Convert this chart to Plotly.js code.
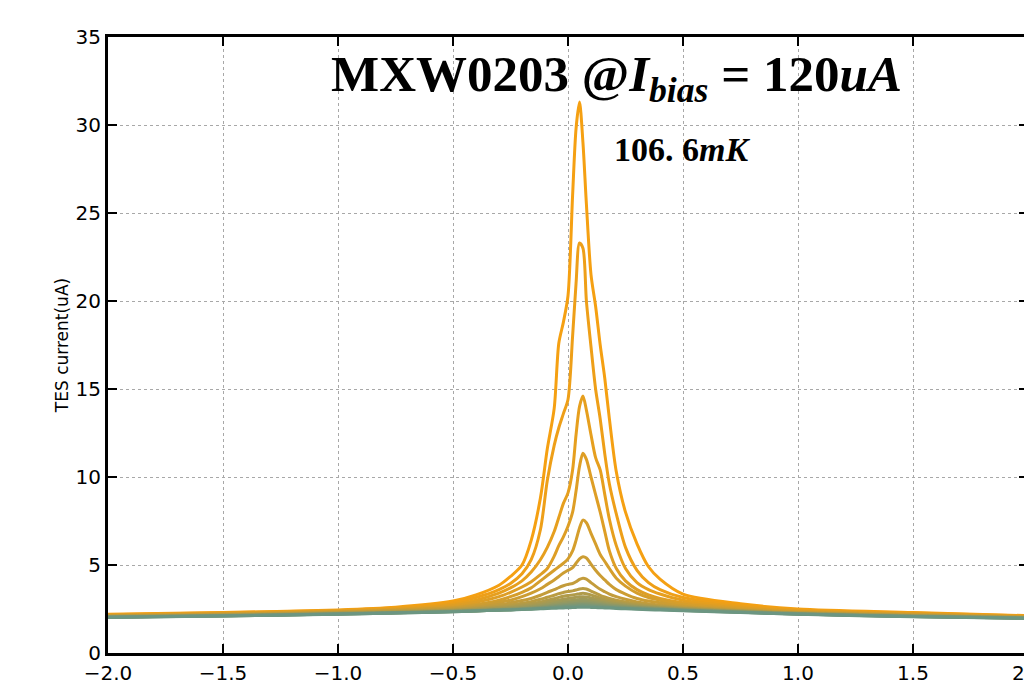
<!DOCTYPE html>
<html><head><meta charset="utf-8">
<script src="https://cdn.plot.ly/plotly-3.0.1.min.js"></script>
<style>html,body{margin:0;padding:0;overflow:hidden;background:#fff}#chart{width:1032px;height:686px}</style>
</head><body><div id="chart"></div>
<script>
// shared x grid (flux / bias axis)
const xGrid = [-2.0,-1.5,-1.0,-0.75,-0.5,-0.4,-0.3,-0.25,-0.2,-0.16,-0.12,-0.09,-0.06,-0.04,-0.02,0.0,0.02,0.035,0.05,0.065,0.08,0.1,0.12,0.14,0.16,0.18,0.21,0.25,0.3,0.35,0.4,0.5,0.75,1.0,1.5,2.0];

// TES current (uA) curves, from the highest peak to the flattest
const curve01 = [2.2,2.3,2.45,2.6,2.95,3.3,3.85,4.35,5.0,6.4,8.8,11.6,13.9,17.6,18.8,20.3,26.0,29.8,31.3,29.0,25.5,21.5,19.7,17.5,15.6,13.3,10.3,8.0,6.2,4.9,4.2,3.35,2.8,2.5,2.3,2.12];
const curve02 = [2.18,2.28,2.42,2.55,2.85,3.15,3.6,3.95,4.5,5.3,7.0,9.8,11.8,12.8,13.6,14.4,18.0,21.0,23.3,23.0,20.0,17.4,15.0,13.3,11.3,9.6,7.9,6.0,4.7,4.0,3.6,3.15,2.7,2.45,2.27,2.1];
const curve03 = [2.16,2.26,2.4,2.5,2.75,3.0,3.4,3.7,4.1,4.6,5.3,6.0,6.9,7.7,8.5,9.1,10.4,12.4,14.0,14.6,13.8,12.4,11.1,10.4,9.0,7.6,6.1,4.8,4.0,3.6,3.35,3.0,2.62,2.4,2.24,2.08];
const curve04 = [2.14,2.24,2.37,2.47,2.68,2.88,3.2,3.45,3.75,4.05,4.45,4.8,5.5,6.1,6.6,7.2,8.0,9.2,10.6,11.35,11.0,10.0,9.0,8.0,6.9,5.8,4.8,4.1,3.6,3.3,3.1,2.85,2.55,2.37,2.22,2.06];
const curve05 = [2.12,2.22,2.34,2.44,2.6,2.75,3.0,3.2,3.45,3.7,4.1,4.4,4.7,4.9,5.1,5.35,5.8,6.4,7.1,7.55,7.4,6.8,6.2,5.6,5.2,4.8,4.25,3.8,3.4,3.15,3.0,2.75,2.5,2.33,2.2,2.04];
const curve06 = [2.1,2.2,2.32,2.41,2.55,2.68,2.88,3.0,3.2,3.4,3.65,3.9,4.15,4.35,4.55,4.7,4.85,5.1,5.35,5.47,5.4,5.05,4.7,4.4,4.15,3.9,3.6,3.35,3.1,2.95,2.85,2.65,2.45,2.3,2.18,2.03];
const curve07 = [2.09,2.18,2.3,2.38,2.5,2.6,2.75,2.85,2.98,3.1,3.28,3.45,3.6,3.72,3.82,3.9,3.95,4.05,4.18,4.25,4.2,4.0,3.8,3.62,3.48,3.35,3.2,3.05,2.9,2.8,2.72,2.6,2.42,2.28,2.15,2.02];
const curve08 = [2.08,2.16,2.28,2.35,2.46,2.54,2.65,2.73,2.83,2.92,3.05,3.17,3.28,3.37,3.44,3.5,3.53,3.58,3.64,3.67,3.64,3.52,3.4,3.28,3.18,3.1,3.0,2.9,2.8,2.72,2.66,2.56,2.4,2.27,2.13,2.01];
const curve09 = [2.07,2.15,2.26,2.33,2.43,2.5,2.59,2.65,2.73,2.8,2.9,3.0,3.09,3.16,3.22,3.27,3.3,3.33,3.37,3.39,3.37,3.3,3.21,3.12,3.04,2.98,2.9,2.82,2.74,2.67,2.62,2.53,2.38,2.26,2.12,2.0];
const curve10 = [2.06,2.14,2.25,2.31,2.41,2.47,2.54,2.59,2.65,2.71,2.79,2.87,2.95,3.0,3.05,3.1,3.13,3.16,3.19,3.2,3.19,3.13,3.06,2.99,2.93,2.88,2.81,2.75,2.68,2.63,2.59,2.51,2.37,2.25,2.11,2.0];
const curve11 = [2.05,2.13,2.24,2.3,2.39,2.44,2.5,2.54,2.59,2.64,2.7,2.77,2.84,2.89,2.93,2.97,2.99,3.01,3.04,3.05,3.04,3.0,2.94,2.89,2.84,2.8,2.75,2.69,2.63,2.59,2.55,2.48,2.36,2.24,2.1,1.99];
const curve12 = [2.04,2.12,2.23,2.29,2.37,2.42,2.47,2.5,2.54,2.58,2.63,2.69,2.75,2.79,2.83,2.86,2.88,2.9,2.92,2.93,2.92,2.89,2.85,2.81,2.77,2.73,2.69,2.65,2.6,2.56,2.53,2.46,2.34,2.23,2.09,1.99];
const curve13 = [2.04,2.12,2.22,2.28,2.36,2.4,2.45,2.48,2.51,2.54,2.58,2.63,2.68,2.71,2.74,2.77,2.79,2.81,2.82,2.83,2.82,2.8,2.77,2.74,2.71,2.68,2.65,2.61,2.57,2.54,2.51,2.45,2.33,2.22,2.08,1.98];
const curve14 = [2.03,2.11,2.21,2.28,2.36,2.39,2.44,2.46,2.49,2.52,2.55,2.59,2.63,2.66,2.68,2.7,2.72,2.73,2.74,2.75,2.74,2.72,2.7,2.68,2.66,2.63,2.61,2.57,2.54,2.51,2.49,2.43,2.32,2.21,2.07,1.98];
const curve15 = [2.03,2.1,2.21,2.27,2.35,2.39,2.43,2.45,2.48,2.5,2.53,2.56,2.59,2.61,2.63,2.64,2.65,2.66,2.67,2.68,2.67,2.66,2.64,2.62,2.6,2.59,2.57,2.54,2.51,2.49,2.47,2.42,2.31,2.21,2.07,1.97];
const curve16 = [2.02,2.1,2.2,2.27,2.35,2.39,2.43,2.45,2.47,2.49,2.51,2.53,2.54,2.55,2.56,2.57,2.58,2.59,2.6,2.6,2.6,2.59,2.58,2.57,2.56,2.55,2.53,2.51,2.48,2.46,2.44,2.4,2.3,2.2,2.06,1.97];

const curves = [curve01,curve02,curve03,curve04,curve05,curve06,curve07,curve08,curve09,curve10,curve11,curve12,curve13,curve14,curve15,curve16];

const yTicks = [0,5,10,15,20,25,30,35];
const xTicks = [-2.0,-1.5,-1.0,-0.5,0.0,0.5,1.0,1.5,2.0];

// colour ramp: orange -> grey-green
const cHot = [245,160,18], cCold = [108,150,130];
function rampColor(i, n){
  const t = Math.pow(i/(n-1), 1.1);
  const c = cHot.map((v,k)=>Math.round(v + (cCold[k]-v)*t));
  return 'rgb('+c.join(',')+')';
}

const traces = curves.map((ys,i)=>({
  x: xGrid, y: ys, type:'scatter', mode:'lines',
  line:{color: rampColor(i, curves.length), width:3, shape:'spline', smoothing:0.8},
  hoverinfo:'skip', showlegend:false
}));

const axisCommon = {
  showline:true, linewidth:3, linecolor:'#000', mirror:'ticks',
  ticks:'inside', ticklen:9, tickwidth:2, tickcolor:'#000',
  showgrid:true, gridcolor:'#a8a8a8', griddash:'dot', gridwidth:1,
  zeroline:false, ticklabeloverflow:'allow',
  tickfont:{family:'DejaVu Sans', size:20, color:'#000'}
};

const layout = {
  width:1032, height:686,
  margin:{l:108, r:4, t:37, b:33},
  paper_bgcolor:'#fff', plot_bgcolor:'#fff',
  xaxis: Object.assign({}, axisCommon, {range:[-2,2], tickvals:xTicks, tickformat:'.1f'}),
  yaxis: Object.assign({}, axisCommon, {range:[0,35], tickvals:yTicks,
    title:{text:'TES current(uA)', font:{family:'DejaVu Sans', size:17, color:'#000'}, standoff:3}}),
  annotations:[
    {xref:'paper', yref:'paper', x:0.553, y:0.933, showarrow:false, xanchor:'center', yanchor:'middle',
     text:'<b>MXW0203 @<i>I</i><sub><i>bias</i></sub> = 120<i>uA</i></b>',
     font:{family:'Liberation Serif', size:51, color:'#000'}},
    {xref:'paper', yref:'paper', x:0.624, y:0.817, showarrow:false, xanchor:'center', yanchor:'middle',
     text:'<b>106. 6<i>mK</i></b>',
     font:{family:'Liberation Serif', size:34, color:'#000'}}
  ]
};

Plotly.newPlot('chart', traces, layout, {displayModeBar:false, staticPlot:true});
</script></body></html>
